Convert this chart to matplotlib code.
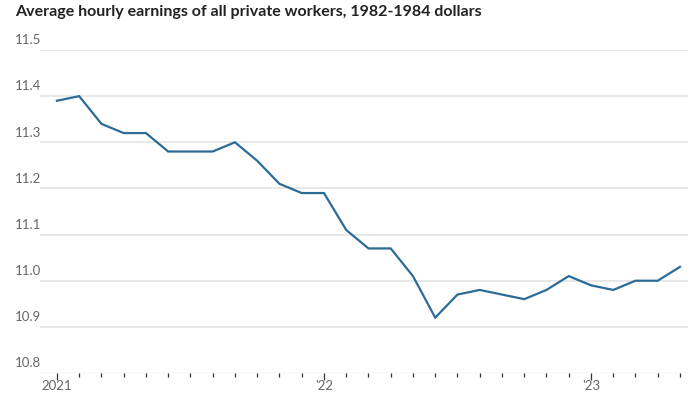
import numpy as np
import matplotlib
matplotlib.use('Agg')
import matplotlib.pyplot as plt
import matplotlib.transforms as mtransforms

# monthly data, Jan 2021 - May 2023
months = ['2021-01', '2021-02', '2021-03', '2021-04', '2021-05', '2021-06',
          '2021-07', '2021-08', '2021-09', '2021-10', '2021-11', '2021-12',
          '2022-01', '2022-02', '2022-03', '2022-04', '2022-05', '2022-06',
          '2022-07', '2022-08', '2022-09', '2022-10', '2022-11', '2022-12',
          '2023-01', '2023-02', '2023-03', '2023-04', '2023-05']
earnings = [11.39, 11.40, 11.34, 11.32, 11.32, 11.28,
            11.28, 11.28, 11.30, 11.26, 11.21, 11.19,
            11.19, 11.11, 11.07, 11.07, 11.01, 10.92,
            10.97, 10.98, 10.97, 10.96, 10.98, 11.01,
            10.99, 10.98, 11.00, 11.00, 11.03]
y_ticks = [10.8, 10.9, 11.0, 11.1, 11.2, 11.3, 11.4, 11.5]
year_labels = {0: '2021', 12: "'22", 24: "'23"}

title = 'Average hourly earnings of all private workers, 1982-1984 dollars'

plt.rcParams['font.family'] = ['Lato', 'DejaVu Sans']

fig = plt.figure(figsize=(7, 3.94), dpi=100)
ax = fig.add_axes([40 / 700, 1 - 373 / 394, 648 / 700, 323 / 394])

x = np.arange(len(months))
ax.plot(x, earnings, color='#2b6c97', lw=1.6, solid_joinstyle='miter', zorder=3)

ax.set_xlim(-0.76, len(months) - 1 + 0.36)
ax.set_ylim(10.8, 11.5)

# gridlines
for v in y_ticks[1:]:
    ax.axhline(v, color='#e8e8e8', lw=1.4, zorder=1)
ax.axhline(10.8, color='#dddddd', lw=1.0, zorder=2)

# y labels sitting above the gridlines at the left edge
trans = mtransforms.blended_transform_factory(fig.transFigure, ax.transData)
for v in y_ticks:
    ax.text(15 / 700, v + 0.008, f'{v:.1f}', transform=trans, ha='left', va='bottom',
            fontsize=9.5, color='#666666', clip_on=False)

for s in ax.spines.values():
    s.set_visible(False)
ax.set_yticks([])

ax.set_xticks(x)
ax.set_xticklabels([year_labels.get(i, '') for i in x], fontsize=9.5, color='#666666')
ax.tick_params(axis='x', length=3, width=0.9, color='#333333', pad=2)
for i, t in enumerate(ax.xaxis.get_major_ticks()):
    if i in year_labels:
        t.tick1line.set_markersize(5)

fig.text(15 / 700, 1 - 12 / 394, title, fontsize=11.5, fontweight='bold',
         color='#222222', ha='left', va='center')

fig.savefig('out.png', dpi=100)
